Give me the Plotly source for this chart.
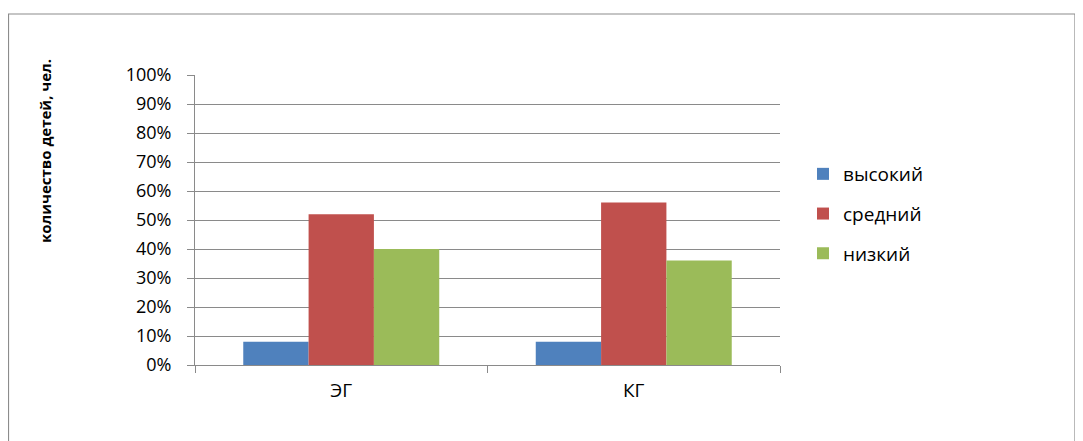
import plotly.graph_objects as go

categories = ["ЭГ", "КГ"]
series_names = ["высокий", "средний", "низкий"]
vysokiy = [0.08, 0.08]
sredniy = [0.52, 0.56]
nizkiy = [0.40, 0.36]
colors = ["#4F81BD", "#C0504D", "#9BBB59"]
y_ticks = [0, 0.1, 0.2, 0.3, 0.4, 0.5, 0.6, 0.7, 0.8, 0.9, 1.0]
y_tick_labels = ["0%", "10%", "20%", "30%", "40%", "50%", "60%", "70%", "80%", "90%", "100%"]
y_title = "количество детей, чел."

OFF = 8  # page body margin
W, H = 1083 - OFF, 441 - OFF
L, T = 195 - OFF, 75 - OFF
R = W - (780 - OFF)
B = H - (365 - OFF)
pw, ph = W - L - R, H - T - B

def px_x(x):
    return (x - OFF - L) / pw

def px_y(y):
    return (H - B - (y - OFF)) / ph

fig = go.Figure()
for name, vals, col in zip(series_names, [vysokiy, sredniy, nizkiy], colors):
    fig.add_trace(go.Bar(x=categories, y=vals, name=name, marker=dict(color=col, line=dict(width=0)),
                         legendgroup=name))

grid = "#8a8a8a"
fig.update_layout(
    width=W, height=H,
    margin=dict(l=L, r=R, t=T, b=B, autoexpand=False),
    paper_bgcolor="white", plot_bgcolor="white",
    barmode="group", bargap=0.33, bargroupgap=0,
    font=dict(family="Open Sans", color="#000000"),
    showlegend=True,
    legend=dict(x=px_x(803), y=px_y(214), xanchor="left", yanchor="middle",
                font=dict(size=19, family="Open Sans", color="#000"),
                tracegroupgap=12, itemwidth=30, bgcolor="rgba(0,0,0,0)"),
    xaxis=dict(showgrid=False, showline=True, linecolor=grid, linewidth=1,
               ticks="outside", tickson="boundaries", ticklen=7, tickcolor=grid,
               tickfont=dict(size=19, family="Open Sans", color="#000"),
               ticklabelstandoff=8),
    yaxis=dict(range=[0, 1.0], tickvals=y_ticks, ticktext=y_tick_labels,
               showgrid=True, gridcolor=grid, gridwidth=1,
               showline=True, linecolor=grid, linewidth=1,
               ticks="outside", ticklen=7, tickcolor=grid,
               tickfont=dict(size=18, family="Open Sans", color="#000"),
               ticklabelstandoff=12, zeroline=False),
    shapes=[dict(type="rect", xref="paper", yref="paper",
                 x0=px_x(8.5), x1=px_x(1075), y0=px_y(460), y1=px_y(14),
                 line=dict(color="#8c8c8c", width=1.2), fillcolor="rgba(0,0,0,0)", layer="below")],
    annotations=[dict(text="<b>" + y_title + "</b>", xref="paper", yref="paper",
                      x=px_x(45), y=px_y(151), textangle=-90, showarrow=False,
                      font=dict(size=15, family="Open Sans", color="#000"),
                      xanchor="center", yanchor="middle")],
)

fig.write_html("out.html")
